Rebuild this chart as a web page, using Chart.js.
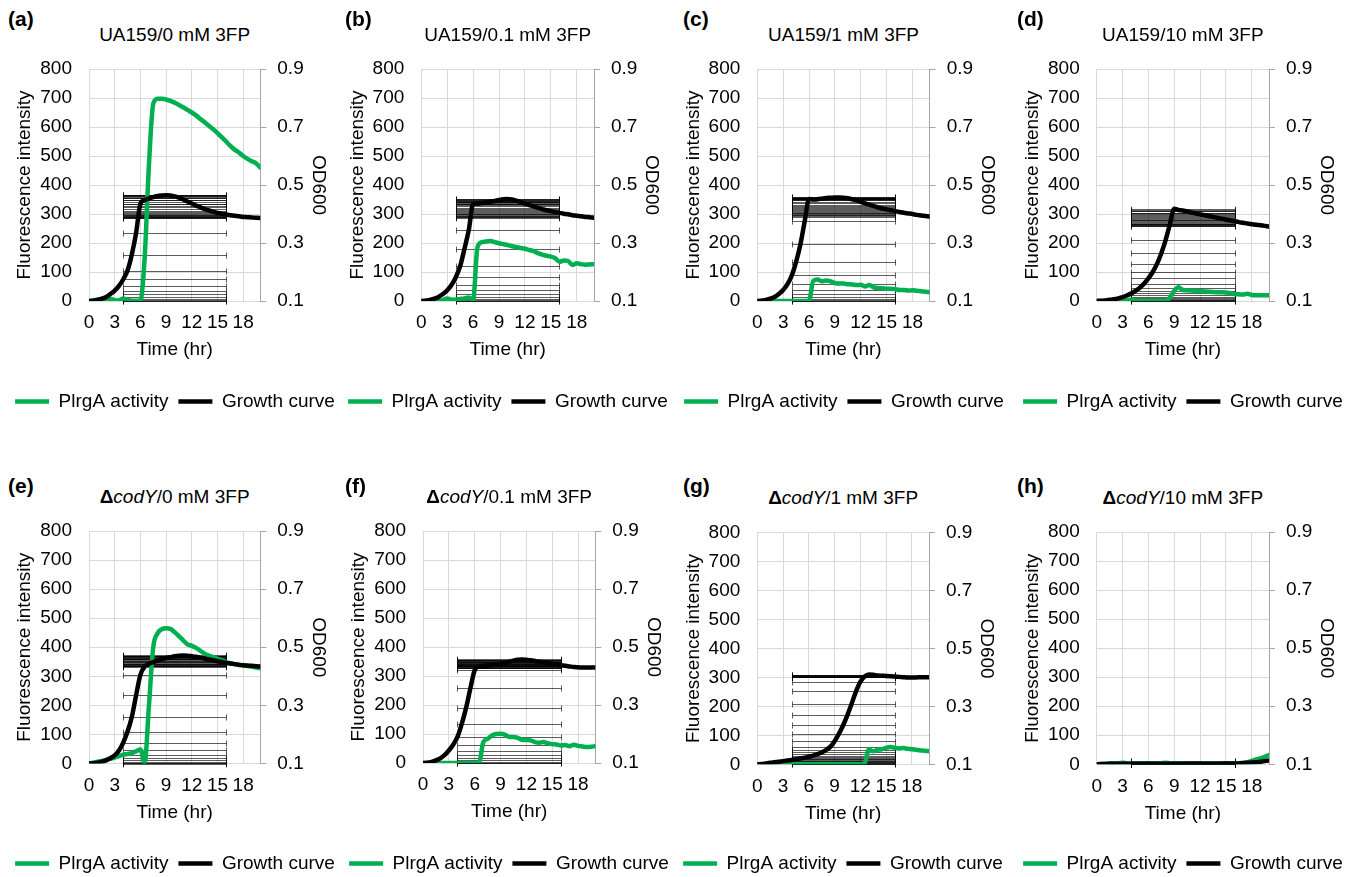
<!DOCTYPE html>
<html>
<head>
<meta charset="utf-8">
<script src="https://cdn.jsdelivr.net/npm/chart.js@4.4.1/dist/chart.umd.min.js"></script>
<style>
  body { margin:0; background:#fff; width:1355px; height:877px; overflow:hidden; position:relative;
         font-family:"Liberation Sans", Arial, sans-serif; color:#000; }
  canvas { position:absolute; }
  .tag { position:absolute; font-weight:bold; font-size:21px; line-height:21px; }
  .title { position:absolute; font-size:19px; line-height:19px; white-space:nowrap; transform:translateX(-50%); }
</style>
</head>
<body>
<script>
// time points (hr)
const time = [0,0.5,1,1.5,2,2.5,3,3.5,4,4.5,5,5.5,6,6.5,7,7.5,8,8.5,9,9.5,10,
              10.5,11,11.5,12,12.5,13,13.5,14,14.5,15,15.5,16,16.5,17,17.5,18,18.5,19,19.5,20];

// PlrgA activity (fluorescence intensity)
const lrgA_a = [0,2,5,4,6,8,3,2,9,4,1,1,1,150,470,680,697,697,695,690,684,676,668,659,650,640,628,616,604,592,579,565,550,535,522,512,500,490,482,475,460];
const lrgA_b = [0,0,0,0,1,3,9,4,5,7,9,12,3,185,203,205,207,203,199,196,193,189,186,183,180,176,172,165,160,156,153,148,135,140,138,124,130,127,125,126,127];
const lrgA_c = [0,0,0,0,0,0,0,0,0,0,0,0,1,70,74,68,71,68,62,60,60,58,57,55,56,50,55,47,45,44,42,42,41,38,38,36,37,35,34,32,30];
const lrgA_d = [0,0,0,0,0,0,0,3,4,2,0,0,0,0,0,0,0,12,35,47,38,37,36,35,34,33,32,31,30,30,29,27,24,23,22,25,21,20,20,20,20];
const lrgA_e = [0,3,6,9,13,17,20,25,30,33,36,42,48,2,200,400,447,462,465,463,452,438,424,410,405,398,388,378,371,366,361,355,349,345,342,339,337,335,333,330,328];
const lrgA_f = [0,0,0,0,0,0,0,0,0,0,0,0,0,0,72,83,95,100,101,98,90,90,87,80,79,78,72,70,72,68,65,64,60,62,58,63,59,57,55,56,58];
const lrgA_g = [0,0,0,0,0,0,0,0,0,0,0,0,0,0,0,0,0,0,0,0,0,0,0,0,0,3,52,45,50,52,57,60,57,55,56,54,52,50,48,47,45];
const lrgA_h = [0,1,2,3,4,4,5,4,3,3,3,3,2,3,3,4,5,4,3,3,3,2,2,2,2,3,3,3,3,3,3,3,4,4,5,7,12,17,20,26,32];

// growth curve (OD600)
const od_a = [0.100,0.101,0.104,0.108,0.114,0.124,0.136,0.152,0.175,0.205,0.260,0.335,0.435,0.448,0.454,0.458,0.462,0.464,0.465,0.464,0.461,0.456,0.450,0.443,0.436,0.429,0.423,0.417,0.412,0.408,0.404,0.401,0.398,0.396,0.394,0.392,0.390,0.389,0.388,0.387,0.386];
const od_b = [0.100,0.101,0.104,0.108,0.114,0.124,0.137,0.155,0.182,0.220,0.280,0.345,0.435,0.436,0.438,0.440,0.442,0.445,0.448,0.451,0.452,0.450,0.446,0.441,0.436,0.431,0.426,0.421,0.417,0.413,0.410,0.407,0.404,0.401,0.399,0.396,0.394,0.392,0.390,0.389,0.387];
const od_c = [0.100,0.101,0.104,0.108,0.114,0.124,0.138,0.158,0.188,0.235,0.295,0.375,0.452,0.450,0.451,0.453,0.455,0.456,0.457,0.457,0.456,0.454,0.451,0.447,0.442,0.437,0.432,0.427,0.423,0.419,0.416,0.413,0.410,0.407,0.404,0.402,0.400,0.397,0.395,0.393,0.391];
const od_d = [0.100,0.101,0.102,0.104,0.106,0.109,0.113,0.119,0.126,0.135,0.146,0.160,0.178,0.200,0.228,0.265,0.310,0.365,0.418,0.414,0.412,0.409,0.405,0.402,0.399,0.396,0.393,0.390,0.387,0.384,0.381,0.378,0.375,0.372,0.370,0.367,0.365,0.363,0.361,0.359,0.357];
const od_e = [0.100,0.101,0.103,0.106,0.111,0.118,0.128,0.145,0.172,0.210,0.260,0.335,0.405,0.433,0.443,0.449,0.454,0.459,0.463,0.466,0.469,0.471,0.472,0.471,0.469,0.467,0.464,0.461,0.458,0.455,0.452,0.449,0.446,0.444,0.442,0.440,0.438,0.437,0.436,0.435,0.434];
const od_f = [0.100,0.101,0.104,0.109,0.116,0.127,0.143,0.163,0.190,0.235,0.290,0.358,0.420,0.433,0.435,0.436,0.438,0.440,0.442,0.445,0.449,0.453,0.456,0.457,0.456,0.454,0.452,0.449,0.447,0.444,0.442,0.439,0.437,0.435,0.433,0.431,0.430,0.429,0.429,0.429,0.429];
const od_g = [0.100,0.101,0.103,0.105,0.107,0.109,0.111,0.113,0.115,0.117,0.120,0.123,0.126,0.130,0.135,0.141,0.149,0.160,0.180,0.205,0.235,0.270,0.310,0.352,0.385,0.403,0.410,0.409,0.407,0.406,0.405,0.404,0.403,0.402,0.401,0.400,0.400,0.400,0.401,0.401,0.401];
const od_h = [0.100,0.101,0.101,0.102,0.102,0.102,0.102,0.102,0.102,0.102,0.102,0.102,0.102,0.102,0.102,0.102,0.102,0.102,0.102,0.102,0.102,0.102,0.102,0.102,0.102,0.102,0.102,0.102,0.102,0.102,0.103,0.103,0.103,0.103,0.104,0.105,0.106,0.107,0.109,0.111,0.113];

// x-range covered by the horizontal error bars (hr)
const errorSpan = [4, 16];

const tags   = ['(a)','(b)','(c)','(d)','(e)','(f)','(g)','(h)'];
const titles = ['UA159/0 mM 3FP','UA159/0.1 mM 3FP','UA159/1 mM 3FP','UA159/10 mM 3FP',
                '<b>\u0394</b><i>codY</i>/0 mM 3FP','<b>\u0394</b><i>codY</i>/0.1 mM 3FP',
                '<b>\u0394</b><i>codY</i>/1 mM 3FP','<b>\u0394</b><i>codY</i>/10 mM 3FP'];
const lrgSeries = [lrgA_a,lrgA_b,lrgA_c,lrgA_d,lrgA_e,lrgA_f,lrgA_g,lrgA_h];
const odSeries  = [od_a,od_b,od_c,od_d,od_e,od_f,od_g,od_h];

// plot-area frames on the page
const frames = [
  {l:89,     r:260.3, t:69,    b:301},
  {l:421.3,  r:594,   t:69,    b:301},
  {l:757.3,  r:929.7, t:69,    b:301},
  {l:1096.7, r:1269,  t:69,    b:301},
  {l:89,     r:260.3, t:531,   b:763.5},
  {l:423,    r:595.3, t:531,   b:763},
  {l:757.3,  r:929,   t:532.7, b:764.3},
  {l:1096.7, r:1269,  t:532,   b:764.3}
];
const tagX = [8, 345, 683, 1017];

const green = '#00B050';
const black = '#000000';
const gridColor = '#D9D9D9';
const axisColor = '#A6A6A6';
const FONT = '"Liberation Sans", Arial, sans-serif';
const FS = 19;
const LH = FS * 1.2;

Chart.defaults.font.family = FONT;
Chart.defaults.font.size = FS;
Chart.defaults.color = '#000';

// horizontal error bars of the growth curve, drawn under the lines
const errorBars = {
  id: 'errorBars',
  beforeDatasetsDraw(chart) {
    const {ctx, scales: {x, y1}} = chart;
    const pts = chart.data.datasets[1].data;
    const x0 = Math.round(x.getPixelForValue(errorSpan[0])) + 0.5;
    const x1 = Math.round(x.getPixelForValue(errorSpan[1])) + 0.5;
    ctx.save();
    ctx.strokeStyle = 'rgba(0,0,0,0.8)';
    ctx.lineWidth = 0.8;
    ctx.beginPath();
    pts.forEach(p => {
      const py = Math.round(y1.getPixelForValue(p.y)) + 0.5;
      ctx.moveTo(x0, py); ctx.lineTo(x1, py);
      ctx.moveTo(x0, py - 3); ctx.lineTo(x0, py + 3);
      ctx.moveTo(x1, py - 3); ctx.lineTo(x1, py + 3);
    });
    ctx.stroke();
    ctx.restore();
  }
};

const cW = 348, cH = 411, legendH = FS + 20;

frames.forEach((f, i) => {
  const row = i < 4 ? 0 : 1;
  const cTop = row ? 472 : 10;
  const cx = (f.l + f.r) / 2;
  const cL = Math.round(cx - cW / 2);

  const tag = document.createElement('div');
  tag.className = 'tag';
  tag.textContent = tags[i];
  tag.style.left = tagX[i % 4] + 'px';
  tag.style.top = (row ? 474.5 : 8) + 'px';
  document.body.appendChild(tag);

  const ttl = document.createElement('div');
  ttl.className = 'title';
  ttl.innerHTML = titles[i];
  ttl.style.left = cx + 'px';
  ttl.style.top = (f.t - 35 - FS / 2) + 'px';
  document.body.appendChild(ttl);

  const cv = document.createElement('canvas');
  cv.width = cW; cv.height = cH;
  cv.style.left = cL + 'px';
  cv.style.top = cTop + 'px';
  document.body.appendChild(cv);

  const yW  = f.l - cL;
  const y1W = cL + cW - f.r;
  const xH  = (cTop + cH - legendH) - f.b;

  new Chart(cv.getContext('2d'), {
    type: 'line',
    plugins: [errorBars],
    data: {
      datasets: [{
        label: 'PlrgA activity',
        data: time.map((t, k) => ({x: t, y: lrgSeries[i][k]})),
        yAxisID: 'y',
        borderColor: green,
        backgroundColor: green,
        borderWidth: 4.5,
        borderCapStyle: 'round',
        pointRadius: 0,
        cubicInterpolationMode: 'monotone',
        order: 2
      }, {
        label: 'Growth curve',
        data: time.map((t, k) => ({x: t, y: odSeries[i][k]})),
        yAxisID: 'y1',
        borderColor: black,
        backgroundColor: black,
        borderWidth: 4.5,
        borderCapStyle: 'round',
        pointRadius: 0,
        cubicInterpolationMode: 'monotone',
        order: 1
      }]
    },
    options: {
      responsive: false,
      animation: false,
      events: [],
      layout: { padding: { top: f.t - cTop, left: 0, right: 0, bottom: 0 } },
      plugins: {
        legend: {
          position: 'bottom',
          labels: {
            usePointStyle: true,
            pointStyle: 'line',
            pointStyleWidth: 34,
            padding: 10,
            color: '#000',
            font: { size: FS },
            sort: (a, b) => a.datasetIndex - b.datasetIndex
          }
        },
        tooltip: { enabled: false }
      },
      scales: {
        x: {
          type: 'linear', min: 0, max: 20,
          ticks: { stepSize: 3, includeBounds: false, padding: 22 - LH / 2, maxRotation: 0, autoSkip: false },
          grid: { color: gridColor, drawTicks: false },
          border: { display: false },
          title: { display: true, text: 'Time (hr)', padding: { top: 0, bottom: xH - 49 - LH / 2 } },
          afterFit(s) { s.height = xH; }
        },
        y: {
          position: 'left', min: 0, max: 800,
          ticks: { stepSize: 100, padding: 17 },
          grid: { color: gridColor, drawTicks: false },
          border: { display: false },
          title: { display: true, text: 'Fluorescence intensity', padding: { top: yW - 64 - LH / 2, bottom: 0 } },
          afterFit(s) { s.width = yW; }
        },
        y1: {
          position: 'right', min: 0.1, max: 0.9,
          ticks: { stepSize: 0.2, padding: 11, callback: v => v.toFixed(1) },
          grid: { drawOnChartArea: false, drawTicks: true, tickLength: 6, color: axisColor },
          border: { display: true, color: axisColor },
          title: { display: true, text: 'OD600', padding: { top: y1W - 57.5 - LH / 2, bottom: 0 } },
          afterFit(s) { s.width = y1W; }
        }
      }
    }
  });
});
</script>
</body>
</html>
